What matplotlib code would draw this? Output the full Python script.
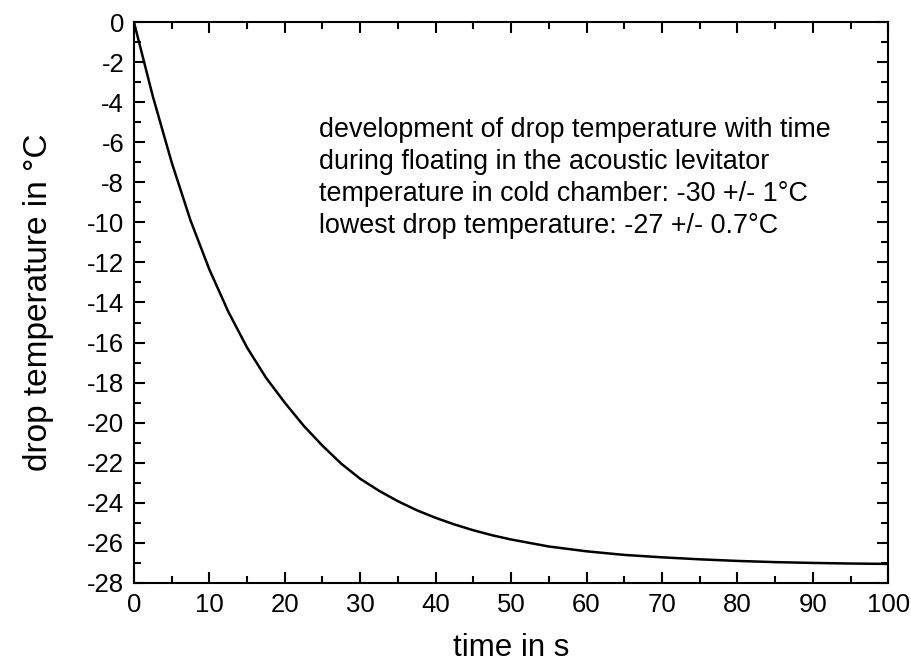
import matplotlib
matplotlib.use("Agg")
import matplotlib.pyplot as plt
from matplotlib.ticker import MultipleLocator

plt.rcParams['font.family'] = ['Liberation Sans', 'DejaVu Sans']
plt.rcParams['axes.unicode_minus'] = False

# time in s and drop temperature in degC
time_s = [0, 2.5, 5, 7.5, 10, 12.5, 15, 17.5, 20, 22.5, 25, 27.5, 30, 32.5,
          35, 37.5, 40, 42.5, 45, 47.5, 50, 55, 60, 65, 70, 75, 80, 85, 90,
          95, 100]
temp_c = [0, -3.7, -7.0, -9.9, -12.35, -14.45, -16.25, -17.75, -19.0, -20.15,
          -21.15, -22.05, -22.8, -23.4, -23.92, -24.37, -24.75, -25.08, -25.37,
          -25.62, -25.83, -26.18, -26.42, -26.6, -26.72, -26.82, -26.9, -26.96,
          -27.0, -27.03, -27.05]

note_lines = ["development of drop temperature with time",
              "during floating in the acoustic levitator",
              "temperature in cold chamber: -30 +/- 1°C",
              "lowest drop temperature: -27 +/- 0.7°C"]

fig = plt.figure(figsize=(9.11, 6.67), dpi=100)
ax = fig.add_axes([0.147, 0.126, 0.828, 0.841])

ax.plot(time_s, temp_c, color='black', lw=1.8)

ax.set_xlim(0, 100)
ax.set_ylim(-28, 0)
ax.xaxis.set_major_locator(MultipleLocator(10))
ax.xaxis.set_minor_locator(MultipleLocator(5))
ax.yaxis.set_major_locator(MultipleLocator(2))
ax.yaxis.set_minor_locator(MultipleLocator(1))
ax.tick_params(which='both', direction='in', top=True, right=True, width=1.5)
ax.tick_params(which='major', length=8, labelsize=18.5, pad=7)
ax.tick_params(which='minor', length=5)
for s in ax.spines.values():
    s.set_linewidth(1.5)

ax.set_xlabel('time in s', fontsize=22.5, labelpad=12)
ax.set_ylabel('drop temperature in °C', fontsize=24, labelpad=24)

fig.text(0.350, 0.824, "\n".join(note_lines), fontsize=19.4, va='top', ha='left',
         linespacing=1.3)

fig.savefig('out.png', dpi=100)
